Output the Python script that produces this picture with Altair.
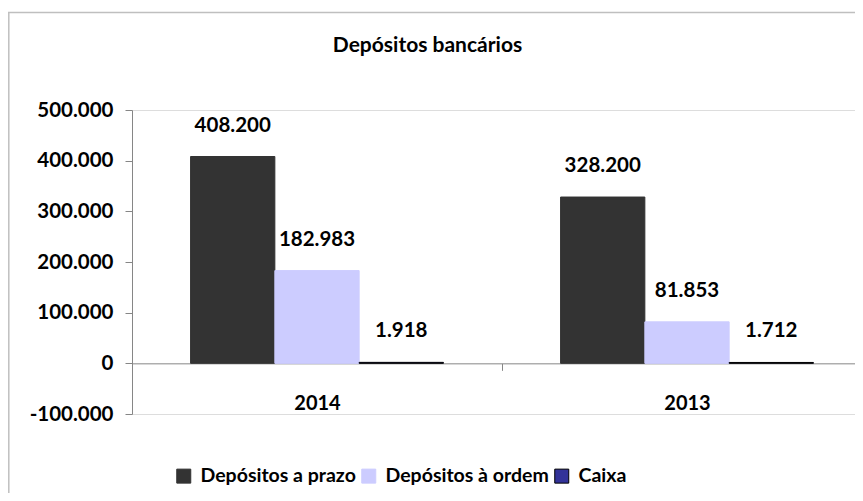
import altair as alt
import pandas as pd

anos = ["2014", "2013"]
series = ["Depósitos a prazo", "Depósitos à ordem", "Caixa"]
prazo = [408200, 328200]
ordem = [182983, 81853]
caixa = [1918, 1712]
y_ticks = [-100000, 0, 100000, 200000, 300000, 400000, 500000]
fill_colors = ["#333333", "#ccccff", "#333399"]
stroke_colors = ["#333333", "#ccccff", "#000000"]
titulo = "Depósitos bancários"

rows = []
for i, ano in enumerate(anos):
    for s, vals in zip(series, [prazo, ordem, caixa]):
        rows.append({"ano": ano, "serie": s, "valor": vals[i]})
df = pd.DataFrame(rows)

FONT = "Lato"
W, H = 723, 304
fmt = "replace(replace(format(datum.value, ','), ',', '.'), '\u2212', '-')"

base = alt.Chart(df)

x_scale = alt.Scale(domain=anos, range=[0, 740], paddingInner=0, paddingOuter=0)
x_enc = alt.X(
    "ano:N", sort=anos, scale=x_scale,
    axis=alt.Axis(title=None, orient="bottom", offset=-H / 6, labelAngle=0,
                  domainColor="#868686", tickColor="#868686", tickBand="extent",
                  tickSize=7, labelPadding=23, labelFont=FONT, labelFontWeight="bold",
                  labelFontSize=20, labelColor="#000000"),
)
xo_enc = alt.XOffset("serie:N", sort=series,
                     scale=alt.Scale(domain=series, paddingInner=0, paddingOuter=0.695))
y_enc = alt.Y(
    "valor:Q",
    scale=alt.Scale(domain=[-100000, 500000], nice=False, zero=False),
    axis=alt.Axis(title=None, values=y_ticks, labelExpr=fmt, grid=False,
                  domainColor="#868686", tickColor="#868686", tickSize=7,
                  labelPadding=12, labelFont=FONT, labelFontWeight="bold",
                  labelFontSize=20.5, labelColor="#000000"),
)

bars = base.mark_bar(strokeWidth=1).encode(
    x=x_enc, xOffset=xo_enc, y=y_enc,
    color=alt.Color("serie:N", sort=series, title=None,
                    scale=alt.Scale(domain=series, range=fill_colors),
                    legend=alt.Legend(orient="none", legendX=42, legendY=356,
                                      direction="horizontal", symbolType="square",
                                      symbolSize=196, symbolStrokeWidth=1,
                                      labelFont=FONT, labelFontWeight="bold",
                                      labelFontSize=19.5, labelColor="#000000",
                                      labelOffset=7, columnPadding=3, labelLimit=400)),
    stroke=alt.Stroke("serie:N", sort=series, title=None,
                      scale=alt.Scale(domain=series, range=stroke_colors)),
)

labels = base.transform_calculate(
    rotulo="replace(format(datum.valor, ','), ',', '.')"
).mark_text(dy=-31, baseline="middle", align="center", font=FONT,
            fontWeight="bold", fontSize=20.5, color="#000000").encode(
    x=alt.X("ano:N", sort=anos, scale=x_scale),
    xOffset=xo_enc,
    y=alt.Y("valor:Q"),
    text="rotulo:N",
)

one = pd.DataFrame({"titulo": [titulo]})
frame_left = alt.Chart(one).mark_rule(color="#bfbfbf", strokeWidth=1.5).encode(
    x=alt.value(-123.2), y=alt.value(-97.5), y2=alt.value(420))
frame_top = alt.Chart(one).mark_rule(color="#bfbfbf", strokeWidth=1.5).encode(
    x=alt.value(-124), x2=alt.value(760), y=alt.value(-97.5))
title_mark = alt.Chart(one).mark_text(
    align="center", baseline="alphabetic", font=FONT, fontWeight="bold",
    fontSize=21, color="#000000").encode(
    x=alt.value(295.5), y=alt.value(-58), text="titulo:N")

chart = alt.layer(frame_left, frame_top, title_mark, bars, labels).properties(
    width=W, height=H,
    autosize=alt.AutoSizeParams(type="none"),
    padding={"left": 124, "top": 102, "right": 0, "bottom": 79},
).configure_view(stroke=None).configure(font=FONT, background="#ffffff")

chart.save("out.html", embed_options={"renderer": "svg", "actions": False})
